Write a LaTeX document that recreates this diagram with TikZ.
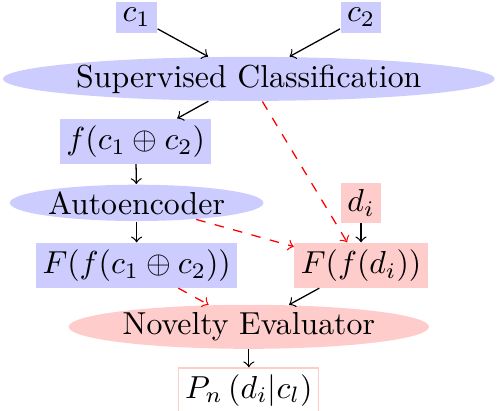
\documentclass[tikz,border=0pt]{standalone}
\usetikzlibrary{shapes.geometric}
\begin{document}
\begin{tikzpicture}[every node/.style={inner sep=2pt},
  bbox/.style={fill=blue!20}, rbox/.style={fill=red!20},
  bell/.style={ellipse,fill=blue!20,inner sep=0.4pt},
  rell/.style={ellipse,fill=red!20,inner sep=0.4pt},
  redarr/.style={->,red,dashed}]
          \useasboundingbox (0,0) rectangle (5.515,4.542);
          \node [bbox] (c1) at (1.51,4.35) {$c_1$};
          \node [bbox] (c2) at (3.99,4.35) {$c_2$};
          \node [bell] (sup) at (2.75,3.67) {Supervised Classification};
          \node [bbox] (f) at (1.50,2.98) {$f(c_1 \oplus c_2)$};
          \node [bell] (auto) at (1.51,2.30) {Autoencoder};
          \node [rbox] (di) at (3.99,2.30) {$d_i$};
          \node [bbox] (Fc) at (1.51,1.61) {$F(f(c_1 \oplus c_2))$};
          \node [rbox] (Fd) at (3.99,1.61) {$F(f(d_i))$};
          \node [rell] (nov) at (2.75,0.93) {Novelty Evaluator};
          \node [draw=red!20] (pn) at (2.75,0.23) {$P_n\left(d_i|c_l\right)$};
          \draw [->] (c1) -- (sup);
          \draw [->] (c2) -- (sup);
          \draw [->] (sup) -- (f);
          \draw [->] (f) -- (auto);
          \draw [->] (auto) -- (Fc);
          \draw [->] (di) -- (Fd);
          \draw [redarr] (sup) -- (Fd);
          \draw [redarr] (auto) -- (Fd);
          \draw [redarr] (Fc) -- (nov);
          \draw [->] (Fd) -- (nov);
          \draw [->] (nov) -- (pn);
        \end{tikzpicture}
\end{document}
